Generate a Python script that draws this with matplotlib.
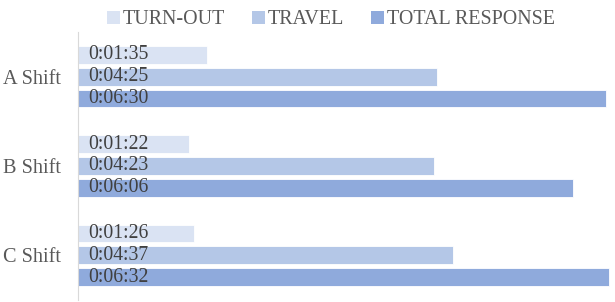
import matplotlib.pyplot as plt
from matplotlib.patches import Patch
import numpy as np

plt.rcParams['font.family'] = ['Liberation Serif', 'DejaVu Serif']

shifts = ["A Shift", "B Shift", "C Shift"]
series = ["TURN-OUT", "TRAVEL", "TOTAL RESPONSE"]
turnout = [95, 82, 86]      # seconds
travel = [265, 263, 277]
total = [390, 366, 392]
colors = ["#dae3f3", "#b4c7e7", "#8faadc"]


def fmt(s):
    return "%d:%02d:%02d" % (s // 3600, (s % 3600) // 60, s % 60)


fig = plt.figure(figsize=(6.15, 3.02), dpi=100)
ax = fig.add_axes([78 / 615, 2 / 302, 532 / 615, 268 / 302])

y = np.arange(len(shifts))
offs = [-0.245, 0.0, 0.245]
for vals, off, col in zip([turnout, travel, total], offs, colors):
    bars = ax.barh(y + off, vals, height=0.2, color=col, edgecolor="white", linewidth=0.6)
    for b, v in zip(bars, vals):
        ax.annotate(fmt(v), (0, b.get_y() + b.get_height() / 2), xytext=(7.5, 0),
                    textcoords="offset points", va="center", ha="left",
                    fontsize=14.2, color="#404040")

ax.set_xlim(0, 393)
ax.set_ylim(2.5, -0.5)
ax.set_yticks(y)
ax.set_yticklabels(shifts, fontsize=14.6, color="#595959")
ax.tick_params(axis="y", length=0, pad=12)
ax.set_xticks([])
for sp in ["top", "right", "bottom"]:
    ax.spines[sp].set_visible(False)
ax.spines["left"].set_color("#d9d9d9")

handles = [Patch(facecolor=c, edgecolor="none") for c in colors]
fig.legend(handles, series, loc="center", bbox_to_anchor=(331 / 615, 1 - 20 / 302),
           ncol=3, frameon=False, fontsize=14.4, handlelength=0.65, handleheight=0.65,
           handletextpad=0.15, columnspacing=1.35, labelcolor="#595959",
           borderpad=0, borderaxespad=0)

fig.savefig("out.png", dpi=100)
